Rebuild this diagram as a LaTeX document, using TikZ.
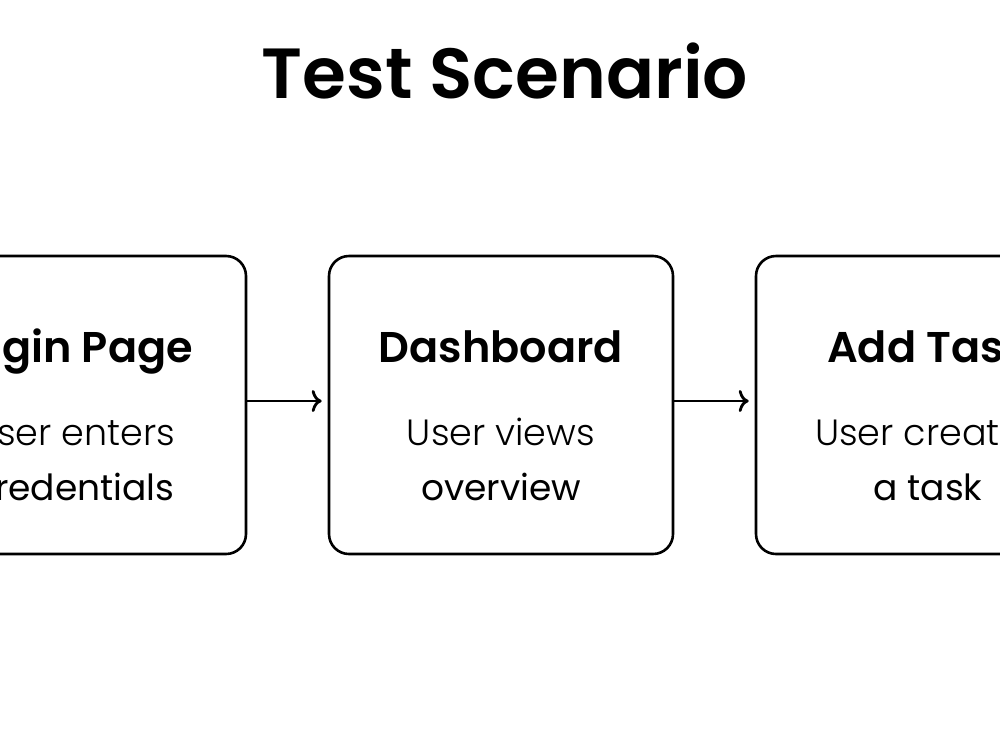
\documentclass[tikz,border=0pt]{standalone}
\usepackage{fontspec}
\setmainfont{Poppins}
\newfontfamily\plight{Poppins Light}
\newfontfamily\preg{Poppins}
\newfontfamily\psemi{Poppins SemiBold}
\usetikzlibrary{arrows.meta}
\begin{document}
\begin{tikzpicture}[x=1pt,y=-1pt,
  card/.style={draw=black, line width=2.6pt, rounded corners=20pt, minimum width=344pt, minimum height=298pt, inner sep=0pt, fill=white},
  head/.style={anchor=base, inner sep=0pt, font=\psemi\fontsize{43}{48}\selectfont},
  lite/.style={anchor=base, inner sep=0pt, font=\plight\fontsize{36.5}{40}\selectfont},
  reg/.style={anchor=base, inner sep=0pt, font=\preg\fontsize{36}{40}\selectfont},
  flow/.style={line width=2.8pt, -{To[length=10pt,width=22pt,line width=2.8pt]}, shorten >=6pt}]
\useasboundingbox (0,0) rectangle (1000,750);
\clip (0,0) rectangle (1000,750);
\fill[white] (0,0) rectangle (1000,750);
\node[anchor=base, inner sep=0pt, font=\psemi\fontsize{71}{76}\selectfont] (title) at (505,98) {Test Scenario};
\node[card] (b1) at (74,405) {};
\node[card] (b2) at (501,405) {};
\node[card] (b3) at (928,405) {};
\node[head] (h1) at (74,362) {Login Page};
\node[lite] (l1) at (74,445) {User enters};
\node[reg] (m1) at (74,500) {credentials};
\node[head] (h2) at (501,362) {Dashboard};
\node[lite] (l2) at (501,445) {User views};
\node[reg] (m2) at (501,500) {overview};
\node[head] (h3) at (928,362) {Add Task};
\node[lite] (l3) at (928,445) {User creates};
\node[reg] (m3) at (928,500) {a task};
\draw[flow] (b1.east |- 0,401) -- (b2.west |- 0,401);
\draw[flow] (b2.east |- 0,401) -- (b3.west |- 0,401);
\end{tikzpicture}
\end{document}
